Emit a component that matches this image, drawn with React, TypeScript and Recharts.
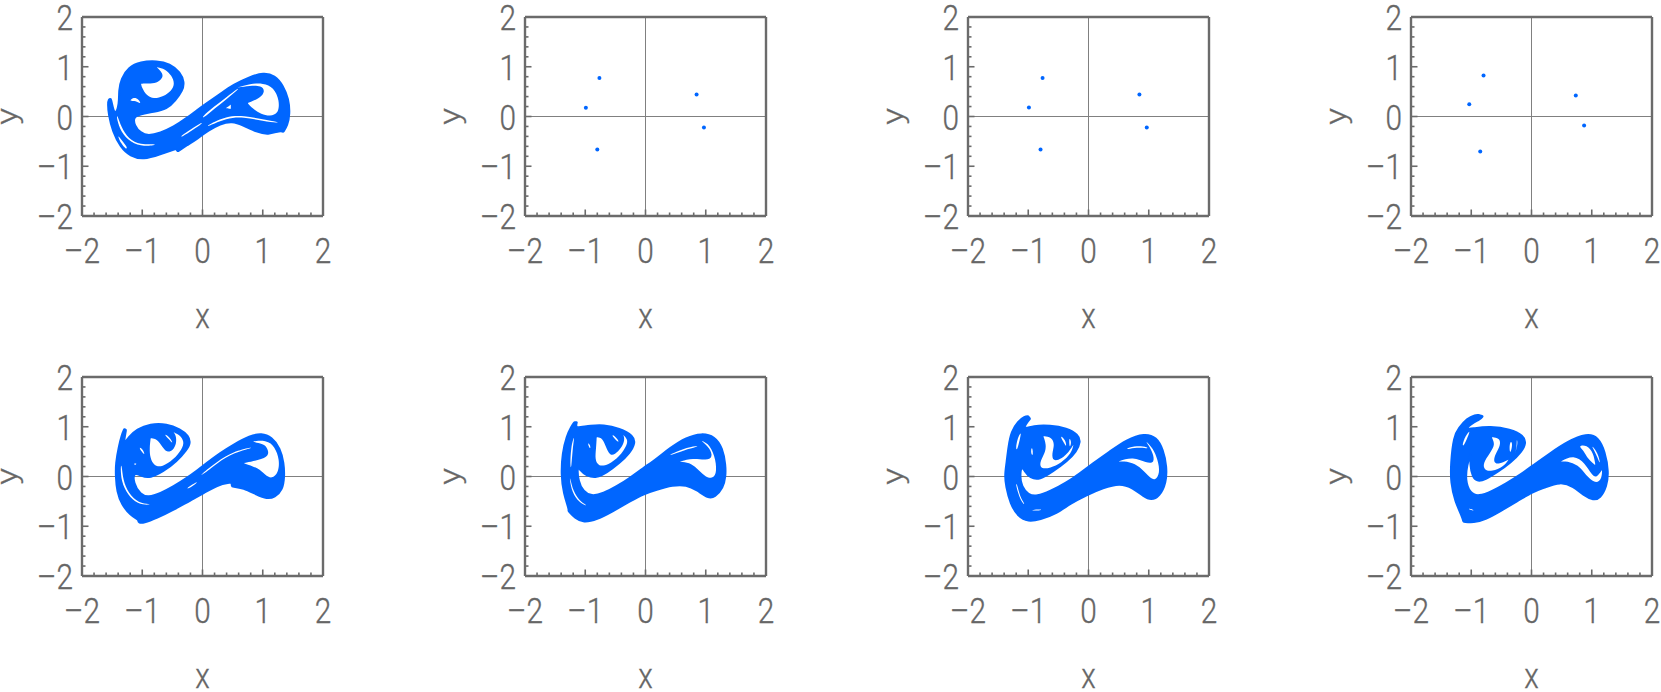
import React from 'react';
import { ScatterChart, Scatter, XAxis, YAxis, ReferenceLine } from 'recharts';

type Pt = number[];

const BLUE = '#0066ff';
const INK = '#6b6b6b';

const axisTicks = [-2, -1.8, -1.6, -1.4, -1.2, -1, -0.8, -0.6, -0.4, -0.2, 0, 0.2, 0.4, 0.6, 0.8, 1, 1.2, 1.4, 1.6, 1.8, 2];

// period-5 orbits in the top row (panels 2-4)
const orbitB: Pt[] = [[-0.765, 0.775], [-0.99, 0.175], [-0.8, -0.665], [0.848, 0.44], [0.97, -0.22]];
const orbitC: Pt[] = [[-0.762, 0.776], [-0.989, 0.18], [-0.796, -0.663], [0.845, 0.44], [0.967, -0.22]];
const orbitD: Pt[] = [[-0.796, 0.823], [-1.033, 0.247], [-0.851, -0.703], [0.735, 0.421], [0.873, -0.181]];

// chaotic sets: the edge of the cloud and the gaps left inside it
// (a repeated point keeps a sharp tip sharp)
const cloudA: Pt[] = [[-1.52, 0.35], [-1.52, 0.35], [-1.49, 0.19], [-1.45, 0.02], [-1.38, 0.25], [-1.39, 0.52], [-1.35, 0.76], [-1.23, 0.99], [-1.03, 1.1], [-0.76, 1.12], [-0.54, 1.06], [-0.37, 0.89], [-0.3, 0.69], [-0.33, 0.52], [-0.45, 0.32], [-0.59, 0.15], [-0.81, 0.09], [-1.03, 0.05], [-1.15, -0.01], [-1.13, -0.18], [-1.03, -0.33], [-0.9, -0.39], [-0.7, -0.33], [-0.48, -0.21], [-0.26, -0.03], [-0.09, 0.13], [0.07, 0.27], [0.29, 0.45], [0.51, 0.64], [0.79, 0.8], [1.01, 0.88], [1.2, 0.83], [1.34, 0.62], [1.43, 0.35], [1.45, 0.05], [1.41, -0.18], [1.34, -0.31], [1.34, -0.31], [1.29, -0.28], [1.09, -0.37], [0.9, -0.31], [0.68, -0.18], [0.49, -0.09], [0.29, -0.15], [0.1, -0.28], [-0.09, -0.45], [-0.26, -0.58], [-0.41, -0.7], [-0.41, -0.7], [-0.44, -0.65], [-0.44, -0.65], [-0.7, -0.76], [-0.98, -0.87], [-1.2, -0.8], [-1.36, -0.62], [-1.49, -0.31], [-1.56, 0.05], [-1.57, 0.25], [-1.56, 0.35]];
const gapsA: Pt[][] = [
  [[-0.76, 0.99], [-0.76, 0.99], [-0.62, 0.96], [-0.51, 0.82], [-0.46, 0.66], [-0.51, 0.52], [-0.65, 0.4], [-0.81, 0.35], [-0.93, 0.42], [-1.01, 0.59], [-1.02, 0.66], [-1.02, 0.66], [-0.9, 0.66], [-0.76, 0.67], [-0.67, 0.76], [-0.65, 0.86]],
  [[-1.21, 0.32], [-1.14, 0.39], [-1.06, 0.35], [-1.01, 0.24], [-1.12, 0.32], [-1.17, 0.31]],
  [[0.57, 0.58], [0.57, 0.58], [0.79, 0.66], [1.01, 0.67], [1.18, 0.59], [1.28, 0.32], [1.26, 0.05], [1.12, 0.01], [0.98, 0.04], [0.82, 0.17], [0.75, 0.27], [0.75, 0.27], [0.96, 0.37], [1.04, 0.51], [0.98, 0.62], [0.79, 0.62]],
  [[-0.01, -0.01], [0.18, 0.19], [0.4, 0.39], [0.6, 0.58], [0.6, 0.55], [0.41, 0.36], [0.2, 0.16], [0.01, -0.04]],
  [[0.39, 0.17], [0.39, 0.17], [0.47, 0.24], [0.47, 0.24], [0.47, 0.15], [0.47, 0.15]],
  [[0.07, -0.18], [0.4, 0.01], [0.68, 0.02], [1.01, -0.06], [1.26, -0.11], [1.26, -0.13], [1.01, -0.09], [0.68, -0.01], [0.4, -0.03], [0.08, -0.21]],
  [[-0.37, -0.4], [-0.18, -0.25], [-0.01, -0.11], [0, -0.14], [-0.16, -0.27], [-0.35, -0.42]],
  [[-1.41, 0.02], [-1.35, -0.21], [-1.23, -0.45], [-1.03, -0.57], [-0.78, -0.55], [-0.78, -0.58], [-1.03, -0.6], [-1.24, -0.48], [-1.38, -0.25], [-1.43, 0.01]],
  [[-1.42, -0.35], [-1.34, -0.48], [-1.24, -0.63], [-1.27, -0.66], [-1.35, -0.55]],
];

const cloudE: Pt[] = [[-1.27, 0.94], [-1.27, 0.94], [-1.29, 0.79], [-1.31, 0.64], [-1.23, 0.79], [-1.09, 0.95], [-0.87, 1.06], [-0.59, 1.06], [-0.37, 0.95], [-0.23, 0.82], [-0.2, 0.67], [-0.26, 0.54], [-0.43, 0.3], [-0.65, 0.1], [-0.87, -0.03], [-1.01, 0], [-1.14, 0.1], [-1.15, -0.13], [-1.03, -0.37], [-0.9, -0.42], [-0.7, -0.34], [-0.48, -0.2], [-0.26, -0.03], [-0.09, 0.12], [0.07, 0.27], [0.29, 0.47], [0.51, 0.64], [0.79, 0.82], [0.98, 0.87], [1.15, 0.79], [1.29, 0.57], [1.35, 0.27], [1.36, 0], [1.33, -0.27], [1.2, -0.42], [1.07, -0.45], [0.9, -0.37], [0.68, -0.23], [0.49, -0.2], [0.49, -0.2], [0.48, -0.12], [0.48, -0.12], [0.24, -0.17], [0.02, -0.34], [-0.2, -0.48], [-0.48, -0.67], [-0.76, -0.84], [-0.98, -0.94], [-1.06, -0.93], [-1.07, -0.87], [-1.07, -0.87], [-1.2, -0.77], [-1.34, -0.57], [-1.42, -0.3], [-1.44, 0], [-1.44, 0.27], [-1.39, 0.6], [-1.34, 0.84], [-1.3, 0.95], [-1.3, 0.95]];
const gapsE: Pt[][] = [
  [[-0.86, 0.77], [-0.86, 0.77], [-0.75, 0.75], [-0.67, 0.6], [-0.59, 0.48], [-0.49, 0.52], [-0.43, 0.67], [-0.44, 0.82], [-0.48, 0.89], [-0.48, 0.89], [-0.38, 0.84], [-0.3, 0.7], [-0.34, 0.55], [-0.48, 0.34], [-0.67, 0.19], [-0.8, 0.21], [-0.87, 0.37], [-0.88, 0.57]],
  [[-0.65, 0.87], [-0.54, 0.79], [-0.48, 0.64], [-0.56, 0.75]],
  [[-1.06, 0.6], [-0.99, 0.55], [-0.95, 0.42], [-1.01, 0.5]],
  [[-1.14, 0.27], [-1.08, 0.26], [-1.13, 0.22]],
  [[-1.34, 0.23], [-1.32, -0.07], [-1.23, -0.34], [-1.06, -0.54], [-0.87, -0.55], [-0.87, -0.57], [-1.08, -0.56], [-1.24, -0.37], [-1.35, -0.1], [-1.36, 0.23]],
  [[0.76, 0.7], [1.07, 0.74], [1.2, 0.6], [1.28, 0.34], [1.26, 0.07], [1.15, -0.05], [1.04, 0.03], [0.93, 0.17], [0.68, 0.27], [0.68, 0.27], [1.01, 0.35], [1.11, 0.44], [1.07, 0.6], [0.98, 0.67]],
  [[-0.04, 0.03], [0.24, 0.3], [0.51, 0.5], [0.82, 0.59], [0.82, 0.57], [0.52, 0.48], [0.25, 0.28], [-0.02, 0.01]],
  [[-0.26, -0.23], [-0.09, -0.1], [-0.08, -0.12], [-0.25, -0.26]],
];

const cloudF: Pt[] = [[-1.14, 1.09], [-1.14, 1.09], [-1.16, 0.99], [-1.09, 0.99], [-0.92, 1.02], [-0.7, 1.04], [-0.43, 0.97], [-0.2, 0.82], [-0.17, 0.67], [-0.26, 0.47], [-0.43, 0.27], [-0.65, 0.07], [-0.81, -0.03], [-0.98, 0.01], [-1.09, 0.13], [-1.13, 0.23], [-1.12, -0.1], [-1.03, -0.3], [-0.9, -0.4], [-0.7, -0.34], [-0.48, -0.2], [-0.26, -0.03], [-0.04, 0.17], [0.18, 0.35], [0.4, 0.57], [0.68, 0.79], [0.93, 0.87], [1.15, 0.81], [1.28, 0.57], [1.33, 0.23], [1.33, 0], [1.29, -0.23], [1.15, -0.42], [1.04, -0.44], [0.85, -0.27], [0.68, -0.17], [0.46, -0.17], [0.15, -0.28], [-0.01, -0.34], [-0.26, -0.5], [-0.54, -0.7], [-0.81, -0.87], [-1.03, -0.93], [-1.17, -0.84], [-1.28, -0.69], [-1.28, -0.69], [-1.27, -0.66], [-1.36, -0.34], [-1.4, 0.03], [-1.38, 0.47], [-1.31, 0.81], [-1.23, 1.01], [-1.18, 1.09], [-1.18, 1.09]];
const gapsF: Pt[][] = [
  [[-0.81, 0.79], [-0.81, 0.79], [-0.71, 0.77], [-0.66, 0.6], [-0.59, 0.42], [-0.51, 0.44], [-0.4, 0.57], [-0.34, 0.74], [-0.37, 0.84], [-0.37, 0.84], [-0.3, 0.75], [-0.3, 0.64], [-0.43, 0.4], [-0.62, 0.23], [-0.78, 0.2], [-0.84, 0.34], [-0.82, 0.57]],
  [[-0.56, 0.86], [-0.45, 0.74], [-0.44, 0.67], [-0.54, 0.79]],
  [[-0.96, 0.68], [-0.92, 0.64], [-0.91, 0.55], [-0.94, 0.6]],
  [[-1.25, 0.17], [-1.24, 0.6], [-1.17, 0.87], [-1.21, 0.57], [-1.23, 0.17]],
  [[-1.25, -0.03], [-1.2, -0.3], [-1.09, -0.5], [-0.98, -0.57], [-0.99, -0.59], [-1.1, -0.52], [-1.22, -0.32], [-1.26, -0.03]],
  [[0.93, 0.72], [0.93, 0.72], [1.07, 0.64], [1.17, 0.34], [1.18, 0.03], [1.09, -0.05], [0.98, 0.01], [0.85, 0.17], [0.73, 0.28], [0.57, 0.3], [0.57, 0.3], [0.79, 0.37], [1.01, 0.32], [1.12, 0.39], [1.07, 0.57]],
  [[0.4, 0.44], [0.62, 0.56], [0.87, 0.62], [0.87, 0.6], [0.64, 0.53], [0.41, 0.42]],
];

const cloudG: Pt[] = [[-1, 1.21], [-1, 1.21], [-0.97, 1.16], [-0.97, 1.16], [-1.04, 1.06], [-1.08, 0.95], [-0.92, 1.02], [-0.64, 1.03], [-0.36, 0.97], [-0.17, 0.84], [-0.13, 0.7], [-0.2, 0.5], [-0.36, 0.3], [-0.59, 0.1], [-0.81, -0.07], [-0.97, -0.03], [-1.06, 0.1], [-1.11, 0.23], [-1.14, 0], [-1.11, -0.2], [-1, -0.37], [-0.86, -0.4], [-0.64, -0.3], [-0.36, -0.12], [-0.14, 0.07], [0.08, 0.27], [0.35, 0.5], [0.63, 0.74], [0.93, 0.87], [1.13, 0.79], [1.24, 0.54], [1.3, 0.2], [1.29, -0.13], [1.18, -0.4], [1.04, -0.48], [0.91, -0.4], [0.74, -0.23], [0.52, -0.13], [0.24, -0.23], [-0.03, -0.37], [-0.31, -0.55], [-0.52, -0.74], [-0.81, -0.87], [-1, -0.91], [-1.17, -0.81], [-1.3, -0.54], [-1.37, -0.2], [-1.39, 0.03], [-1.36, 0.27], [-1.33, 0.6], [-1.28, 0.91], [-1.17, 1.11], [-1.06, 1.21]];
const gapsG: Pt[][] = [
  [[-0.75, 0.81], [-0.75, 0.81], [-0.61, 0.79], [-0.56, 0.64], [-0.61, 0.46], [-0.59, 0.3], [-0.45, 0.35], [-0.32, 0.5], [-0.25, 0.64], [-0.25, 0.64], [-0.28, 0.47], [-0.45, 0.27], [-0.64, 0.17], [-0.78, 0.15], [-0.82, 0.27], [-0.72, 0.47], [-0.7, 0.64]],
  [[-0.48, 0.84], [-0.38, 0.74], [-0.36, 0.57], [-0.42, 0.7]],
  [[-0.32, 0.79], [-0.28, 0.7], [-0.31, 0.57], [-0.32, 0.67]],
  [[-0.94, 0.6], [-0.92, 0.5], [-0.93, 0.4], [-0.96, 0.5]],
  [[-1.21, 0.54], [-1.18, 0.77], [-1.11, 0.92], [-1.14, 0.74], [-1.18, 0.54]],
  [[-1.19, -0.13], [-1.14, -0.4], [-1.06, -0.55], [-1.07, -0.57], [-1.15, -0.42], [-1.21, -0.15]],
  [[-0.94, -0.67], [-0.78, -0.66], [-0.78, -0.68], [-0.94, -0.69]],
  [[0.63, 0.57], [0.8, 0.62], [0.99, 0.59], [0.98, 0.56], [0.8, 0.59], [0.64, 0.54]],
  [[0.96, 0.7], [0.96, 0.7], [1.07, 0.57], [1.15, 0.34], [1.19, 0.07], [1.1, -0.1], [0.99, 0.01], [0.85, 0.2], [0.69, 0.3], [0.49, 0.3], [0.49, 0.3], [0.74, 0.4], [0.96, 0.27], [1.1, 0.27], [1.07, 0.47], [0.99, 0.64]],
];

const cloudH: Pt[] = [[-0.88, 1.24], [-0.81, 1.21], [-0.81, 1.21], [-0.85, 1.15], [-0.99, 1.07], [-1.1, 0.94], [-0.96, 0.97], [-0.69, 1.01], [-0.35, 0.95], [-0.13, 0.82], [-0.09, 0.67], [-0.16, 0.5], [-0.35, 0.27], [-0.55, 0.1], [-0.77, -0.07], [-0.91, -0.1], [-0.98, 0], [-1.02, 0.23], [-1.01, 0.46], [-1.01, 0.46], [-1.07, 0.23], [-1.1, -0.07], [-1.02, -0.34], [-0.88, -0.4], [-0.66, -0.3], [-0.41, -0.13], [-0.19, 0.03], [0.03, 0.23], [0.31, 0.47], [0.59, 0.7], [0.92, 0.87], [1.11, 0.79], [1.22, 0.5], [1.28, 0.1], [1.25, -0.2], [1.14, -0.44], [1.03, -0.48], [0.86, -0.38], [0.7, -0.2], [0.48, -0.1], [0.2, -0.23], [0.03, -0.3], [-0.24, -0.5], [-0.52, -0.7], [-0.77, -0.87], [-0.96, -0.93], [-1.13, -0.91], [-1.13, -0.91], [-1.15, -0.81], [-1.27, -0.5], [-1.34, -0.13], [-1.34, 0.27], [-1.29, 0.81], [-1.21, 0.97], [-1.07, 1.17], [-0.93, 1.24]];
const gapsH: Pt[][] = [
  [[-0.66, 0.79], [-0.66, 0.79], [-0.53, 0.77], [-0.51, 0.64], [-0.59, 0.47], [-0.64, 0.3], [-0.56, 0.23], [-0.38, 0.34], [-0.38, 0.34], [-0.46, 0.2], [-0.66, 0.1], [-0.78, 0.12], [-0.81, 0.26], [-0.69, 0.47], [-0.6, 0.64]],
  [[-0.35, 0.72], [-0.31, 0.67], [-0.35, 0.44], [-0.37, 0.57]],
  [[-0.25, 0.77], [-0.22, 0.67], [-0.29, 0.4], [-0.24, 0.6]],
  [[-1.15, 0.64], [-1.1, 0.81], [-1.01, 0.95], [-1.06, 0.79], [-1.13, 0.6]],
  [[0.77, 0.62], [0.92, 0.64], [1.03, 0.47], [1.06, 0.23], [1.06, 0.23], [0.94, 0.34], [0.86, 0.54]],
  [[0.48, 0.3], [0.48, 0.3], [0.7, 0.44], [0.89, 0.27], [1, 0.03], [1.08, -0.03], [1.17, 0.13], [1.17, 0.13], [1.17, -0.03], [1.08, -0.15], [0.94, -0.03], [0.81, 0.2], [0.64, 0.3]],
  [[0.97, 0.67], [1.11, 0.47], [1.15, 0.2], [1.08, 0.44]],
  [[-1.04, -0.64], [-0.96, -0.67], [-0.96, -0.69], [-1.04, -0.66]],
];

const toPoints = (pts: Pt[]) => pts.map(([x, y]) => ({ x, y }));

const isMajor = (v: number) => Number.isInteger(v);
const tickLength = (v: number) => (isMajor(v) ? 6.5 : 3.5);
const tickText = (v: number) => (v < 0 ? `–${-v}` : `${v}`);

// the original figure is squeezed sideways, so the glyphs are too
function SqueezedText({ x, y, rotate, anchor, children }: any) {
  return (
    <text
      transform={`translate(${x},${y}) scale(0.85,1)${rotate ? ` rotate(${rotate})` : ''}`}
      textAnchor={anchor} fontFamily="Roboto, sans-serif" fontWeight={300} fontSize={35}
      fill="#666666" stroke="#666666" strokeWidth={0.35}
    >
      {children}
    </text>
  );
}

function BottomTick({ x, y, payload }: any) {
  return (
    <g>
      <line x1={x} x2={x} y1={y} y2={y - tickLength(payload.value)} stroke={INK} strokeWidth={1.6} />
      {isMajor(payload.value) && <SqueezedText x={x} y={y + 47} anchor="middle">{tickText(payload.value)}</SqueezedText>}
    </g>
  );
}

function LeftTick({ x, y, payload }: any) {
  return (
    <g>
      <line x1={x} x2={x + tickLength(payload.value)} y1={y} y2={y} stroke={INK} strokeWidth={1.6} />
      {isMajor(payload.value) && <SqueezedText x={x - 9} y={y + 13} anchor="end">{tickText(payload.value)}</SqueezedText>}
    </g>
  );
}

function TopTick({ x, y, payload }: any) {
  return <line x1={x} x2={x} y1={y} y2={y + tickLength(payload.value)} stroke={INK} strokeWidth={1.6} />;
}

function RightTick({ x, y, payload }: any) {
  return <line x1={x} x2={x - tickLength(payload.value)} y1={y} y2={y} stroke={INK} strokeWidth={1.6} />;
}

function XLabel({ viewBox }: any) {
  return <SqueezedText x={viewBox.x + viewBox.width / 2} y={viewBox.y + 112} anchor="middle">x</SqueezedText>;
}

function YLabel({ viewBox }: any) {
  return <SqueezedText x={viewBox.x + 17} y={viewBox.y + viewBox.height / 2} rotate={-90} anchor="middle">y</SqueezedText>;
}

const frameLine = { stroke: INK, strokeWidth: 2.4 };
const noMark = () => <g />;

function Panel({ left, top, orbit, edge, gaps }: { left: number; top: number; orbit?: Pt[]; edge?: Pt[]; gaps?: Pt[][] }) {
  return (
    <div style={{ position: 'absolute', left: left - 82, top: top - 17 }}>
      <ScatterChart width={340} height={340} margin={{ top: 16, right: 16, bottom: 0, left: 0 }}>
        <XAxis
          dataKey="x" type="number" domain={[-2, 2]} ticks={axisTicks} interval={0} height={124}
          tickSize={0} tickMargin={0} tickLine={false} axisLine={frameLine} tick={<BottomTick />}
          label={<XLabel />}
        />
        <YAxis
          dataKey="y" type="number" domain={[-2, 2]} ticks={axisTicks} interval={0} width={82}
          tickSize={0} tickMargin={0} tickLine={false} axisLine={frameLine} tick={<LeftTick />}
          label={<YLabel />}
        />
        <XAxis
          xAxisId="top" orientation="top" type="number" domain={[-2, 2]} ticks={axisTicks} interval={0} height={1}
          tickSize={0} tickMargin={0} tickLine={false} axisLine={frameLine} tick={<TopTick />}
        />
        <YAxis
          yAxisId="right" orientation="right" type="number" domain={[-2, 2]} ticks={axisTicks} interval={0} width={1}
          tickSize={0} tickMargin={0} tickLine={false} axisLine={frameLine} tick={<RightTick />}
        />
        {orbit && (
          <Scatter
            data={toPoints(orbit)} fill={BLUE} isAnimationActive={false}
            shape={(p: any) => <circle cx={p.cx} cy={p.cy} r={2} fill={BLUE} />}
          />
        )}
        {edge && (
          <Scatter
            data={toPoints(edge)} isAnimationActive={false} shape={noMark}
            line={{ stroke: BLUE, strokeWidth: 2, strokeLinejoin: 'round', fill: BLUE }}
            lineJointType="basisClosed"
          />
        )}
        {gaps && gaps.map((gap, i) => (
          <Scatter
            key={i} data={toPoints(gap)} isAnimationActive={false} shape={noMark}
            line={{ stroke: 'none', fill: '#ffffff' }}
            lineJointType="basisClosed"
          />
        ))}
        <ReferenceLine x={0} stroke="#808080" strokeWidth={1} />
        <ReferenceLine y={0} stroke="#808080" strokeWidth={1} />
      </ScatterChart>
    </div>
  );
}

export default function App() {
  return (
    <div style={{ position: 'absolute', left: 0, top: 0, width: 1661, height: 692, overflow: 'hidden', background: '#fff' }}>
      <Panel left={82} top={17} edge={cloudA} gaps={gapsA} />
      <Panel left={525} top={17} orbit={orbitB} />
      <Panel left={968} top={17} orbit={orbitC} />
      <Panel left={1411} top={17} orbit={orbitD} />
      <Panel left={82} top={377} edge={cloudE} gaps={gapsE} />
      <Panel left={525} top={377} edge={cloudF} gaps={gapsF} />
      <Panel left={968} top={377} edge={cloudG} gaps={gapsG} />
      <Panel left={1411} top={377} edge={cloudH} gaps={gapsH} />
    </div>
  );
}
